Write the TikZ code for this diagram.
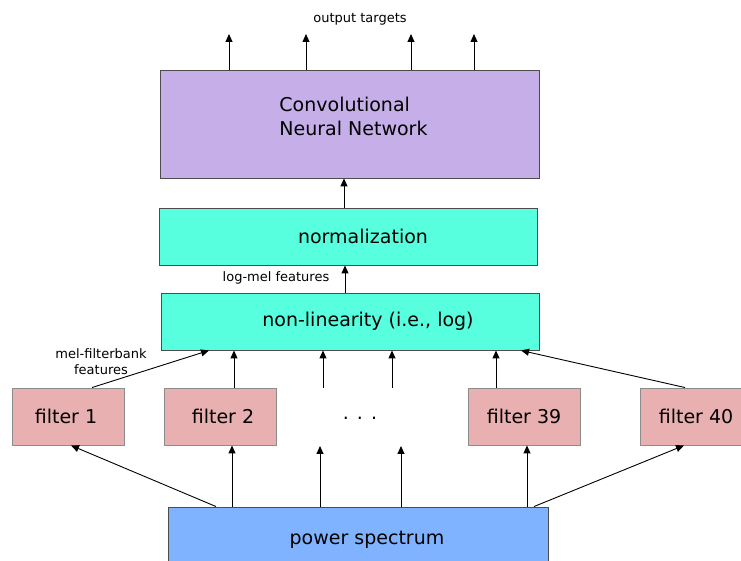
\documentclass[tikz,border=0pt]{standalone}
\usepackage{fontspec}
\setmainfont{DejaVu Sans}
\usepackage{tikz}
\usetikzlibrary{arrows.meta,calc}
\definecolor{cnnpurple}{HTML}{C6AEE8}
\definecolor{normcyan}{HTML}{58FFDE}
\definecolor{filterpink}{HTML}{E8B0B0}
\definecolor{specblue}{HTML}{80B3FF}

\begin{document}
\begin{tikzpicture}[
        x=1pt,y=1pt,
        font=\fontsize{19}{24}\selectfont,
        >={Triangle[length=8pt,width=7pt]},
        block/.style={rectangle,draw=black!70,line width=0.9pt,minimum width=378pt,minimum height=57pt,inner sep=0pt,align=center},
        filterbox/.style={rectangle,draw=black!45,line width=0.9pt,fill=filterpink,minimum width=112pt,minimum height=57pt,inner sep=0pt},
        lbl/.style={font=\fontsize{13}{16}\selectfont,align=center},
        arrow/.style={->,line width=0.9pt}
    ]
        \useasboundingbox (0,0) rectangle (741,561);
        \node[block,fill=cnnpurple,minimum width=379pt,minimum height=108pt,
              label={[xshift=4pt,yshift=8pt,align=left]center:Convolutional\\Neural Network}] (cnn) at (349.5,437) {};
        \node[block,fill=normcyan,label={[xshift=15pt]center:normalization}] (norm) at (348,324.5) {};
        \node[block,fill=normcyan,label={[xshift=18pt]center:non-linearity (i.e., log)}] (nonlin) at (350,239.5) {};
        \node[filterbox] (f1) at (68,144.5) {filter 1\hspace*{4pt}};
        \node[filterbox] (f2) at (220,144.5) {\hspace*{6pt}filter 2};
        \node (dots) at (360,143) {. . .};
        \node[filterbox] (f39) at (524,144.5) {filter 39};
        \node[filterbox] (f40) at (696,144.5) {filter 40};
        \node[block,fill=specblue,minimum width=380pt,minimum height=62pt,
              label={[xshift=9pt,yshift=-2pt]center:power spectrum}] (spec) at (358,23) {};

        \node[lbl] (targets) at (360,542) {output targets};
        \node[lbl] (logmel) at (276,283) {log-mel features};
        \node[lbl] (melfb) at (101,199) {mel-filterbank\\features};

        % outputs of the network
        \foreach \x/\n in {229/a,306/b,411/c,474/d} {
            \coordinate (out\n) at (\x,527);
            \draw[arrow] (cnn.north -| out\n) -- (out\n);
        }
        \draw[arrow] (norm.north -| 344,0) -- (cnn.south -| 344,0);
        \draw[arrow] (nonlin.north -| 345,0) -- (norm.south -| 345,0);

        % filters to non-linearity
        \draw[arrow] ([xshift=24pt]f1.north) -- (nonlin.south -| 209,0);
        \draw[arrow] ([xshift=14pt]f2.north) -- (nonlin.south -| 234,0);
        \coordinate (midl) at (323,173);
        \coordinate (midr) at (392,173);
        \draw[arrow] (midl) -- (nonlin.south -| midl);
        \draw[arrow] (midr) -- (nonlin.south -| midr);
        \draw[arrow] ([xshift=-28pt]f39.north) -- (nonlin.south -| 496,0);
        \draw[arrow] ([xshift=-11pt]f40.north) -- (nonlin.south -| 521,0);

        % power spectrum to filters
        \draw[arrow] (spec.north -| 216,0) -- ([xshift=3pt]f1.south);
        \draw[arrow] (spec.north -| 232,0) -- ([xshift=12pt]f2.south);
        \coordinate (lowl) at (320,115);
        \coordinate (lowr) at (401,115);
        \draw[arrow] (spec.north -| lowl) -- (lowl);
        \draw[arrow] (spec.north -| lowr) -- (lowr);
        \draw[arrow] (spec.north -| 527,0) -- ([xshift=3pt]f39.south);
        \draw[arrow] (spec.north -| 534,0) -- ([xshift=-12pt]f40.south);
    \end{tikzpicture}
\end{document}
